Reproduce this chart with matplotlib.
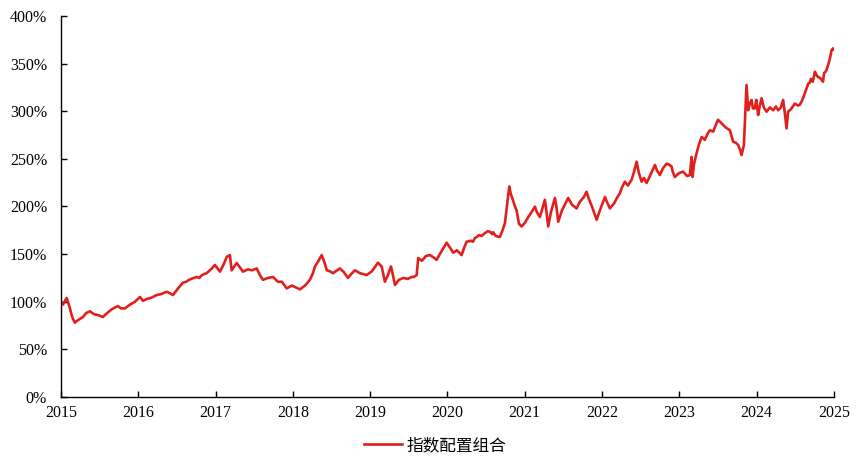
import matplotlib
matplotlib.use("Agg")
import matplotlib.pyplot as plt
from matplotlib.ticker import PercentFormatter, MultipleLocator

plt.rcParams["font.family"] = ["Liberation Serif", "Noto Sans CJK SC"]

# years since 2015 (fractional) and cumulative net value (1.0 = 100%)
t = [0.00, 0.026, 0.052, 0.074, 0.09, 0.116, 0.138, 0.155, 0.181, 0.207,
     0.246, 0.285, 0.323, 0.375, 0.427, 0.479, 0.543, 0.595, 0.656, 0.699,
     0.737, 0.776, 0.828, 0.893, 0.957, 1.022, 1.061, 1.112, 1.164, 1.238,
     1.294, 1.367, 1.41, 1.449, 1.514, 1.578, 1.62, 1.656, 1.70, 1.755,
     1.79, 1.824, 1.85, 1.885,
     1.94, 1.992, 2.057, 2.109, 2.144, 2.186, 2.208, 2.273, 2.316, 2.354,
     2.419, 2.471, 2.532, 2.574, 2.613, 2.678, 2.743, 2.807, 2.859, 2.920,
     2.988, 3.04, 3.092, 3.157, 3.221, 3.26, 3.286, 3.325, 3.373, 3.402,
     3.44, 3.48, 3.519, 3.571, 3.61, 3.661, 3.713, 3.765, 3.804, 3.868,
     3.955, 4.023, 4.101, 4.149, 4.191, 4.23, 4.269, 4.29, 4.321, 4.372,
     4.43, 4.489, 4.537, 4.566, 4.602, 4.622, 4.67, 4.722, 4.774, 4.812,
     4.86, 4.916, 4.99, 5.032, 5.075, 5.123, 5.184, 5.213, 5.248, 5.304,
     5.33, 5.356, 5.38, 5.41, 5.44, 5.485, 5.52, 5.55, 5.58, 5.59,
     5.627, 5.679, 5.718, 5.744, 5.776,
     5.80, 5.82, 5.847, 5.873, 5.895, 5.925, 5.96, 6.003, 6.046, 6.08,
     6.132, 6.158, 6.197, 6.236, 6.261, 6.281, 6.304, 6.339, 6.391, 6.41,
     6.434, 6.482, 6.52, 6.563, 6.61, 6.671, 6.714, 6.766, 6.80, 6.83,
     6.87, 6.931, 6.973, 7.038, 7.063, 7.102, 7.154, 7.193, 7.232, 7.258,
     7.296, 7.335, 7.383, 7.413, 7.448, 7.478, 7.513, 7.542, 7.577, 7.62,
     7.685, 7.71, 7.749, 7.788, 7.836, 7.866, 7.90, 7.917, 7.943, 7.995,
     8.05, 8.10, 8.137, 8.159, 8.172, 8.189, 8.224, 8.254, 8.29, 8.331,
     8.37, 8.396, 8.439, 8.474, 8.501, 8.538, 8.567, 8.60, 8.655, 8.697,
     8.73, 8.762, 8.784, 8.806, 8.836, 8.855, 8.87, 8.892, 8.913, 8.935,
     8.952, 8.978, 8.997, 9.02, 9.04, 9.065, 9.094, 9.129, 9.172, 9.215,
     9.25, 9.279, 9.314, 9.344, 9.366, 9.388, 9.408, 9.443, 9.495, 9.534,
     9.56, 9.582, 9.612, 9.638, 9.668, 9.69, 9.703, 9.728, 9.754, 9.77,
     9.793, 9.82, 9.843, 9.86, 9.873,
     9.899, 9.926, 9.948, 9.97, 9.99, 10.0]

v = [100, 97, 101, 104, 100, 93, 86, 82, 78, 80,
     82, 84, 88, 90, 87, 86, 84, 88, 92, 94,
     95.5, 93, 93, 97, 100, 105, 101, 103, 104, 107,
     108, 110.5, 109, 107, 114, 120, 121, 123, 124.5, 126,
     125, 128, 129, 130,
     134, 138.6, 131.6, 140, 147, 149, 133, 140.7, 136, 131.6,
     134, 133, 135, 128, 123, 125, 126, 121, 121, 114,
     117, 115, 113, 117, 123, 130, 137, 142, 149, 143,
     133, 132, 130, 133, 135, 131, 125, 130, 133, 130,
     128, 132, 141, 137, 121, 128, 137, 130, 117.6, 123,
     125, 124, 126, 126, 128, 146, 143, 148, 149, 147,
     144, 152, 162, 157, 151.5, 154, 149, 156, 163, 164,
     163, 167, 168, 170, 169, 172, 174, 173.5, 171, 173,
     169, 168, 176, 182.7, 205,
     221, 213, 207, 200, 196, 182, 179, 183, 189, 193,
     199.8, 194, 189, 200, 207, 195, 179, 194, 209, 200,
     184, 196, 202, 209, 202, 198, 205, 210, 215.5, 208,
     200, 186, 196, 210, 205, 198, 203, 209, 214, 220,
     226, 222, 228, 236, 247, 235, 226, 230, 224.7, 232,
     243.6, 238, 233, 240, 245, 244, 242, 236, 231, 235,
     236.6, 232, 233, 252, 231, 244, 256, 265, 273, 270,
     277, 280, 278.6, 286, 291, 288, 285.6, 283, 280, 268,
     267, 264.6, 260, 254, 264.6, 300, 327.6, 301, 308, 311.8,
     303, 303, 312, 296, 305, 313.6, 304, 299.5, 304, 301,
     305, 301, 304, 311.8, 297.8, 282, 299.5, 302, 308, 306,
     307, 310, 316, 322, 329, 330, 334, 331, 341.5, 339,
     336, 335, 333, 331, 340,
     342, 348.6, 355, 364, 366, 365]

years = [2015 + x for x in t]
values = [y / 100 for y in v]
year_ticks = list(range(2015, 2026))
series_name = "指数配置组合"

fig = plt.figure(figsize=(8.65, 4.70), dpi=100)
ax = fig.add_axes([0.0705, 0.1553, 0.8935, 0.8107])

ax.plot(years, values, color="#E0201E", lw=1.9, label=series_name)

ax.set_xlim(2015, 2025)
ax.set_ylim(0, 4)
ax.set_xticks(year_ticks)
ax.set_xticklabels([str(y) for y in year_ticks])
ax.yaxis.set_major_locator(MultipleLocator(0.5))
ax.yaxis.set_major_formatter(PercentFormatter(1.0, decimals=0))

for s in ["top", "right"]:
    ax.spines[s].set_visible(False)
for s in ["left", "bottom"]:
    ax.spines[s].set_linewidth(1.0)
    ax.spines[s].set_color("black")

ax.tick_params(axis="both", direction="in", length=4, width=1.0,
               labelsize=11.5, colors="black")
ax.tick_params(axis="x", pad=6)
ax.tick_params(axis="y", pad=10)

fig.legend(loc="center", bbox_to_anchor=(0.503, 0.051), frameon=False,
           fontsize=12, handlelength=2.3, handletextpad=0.3)

fig.savefig("out.png", dpi=100)
